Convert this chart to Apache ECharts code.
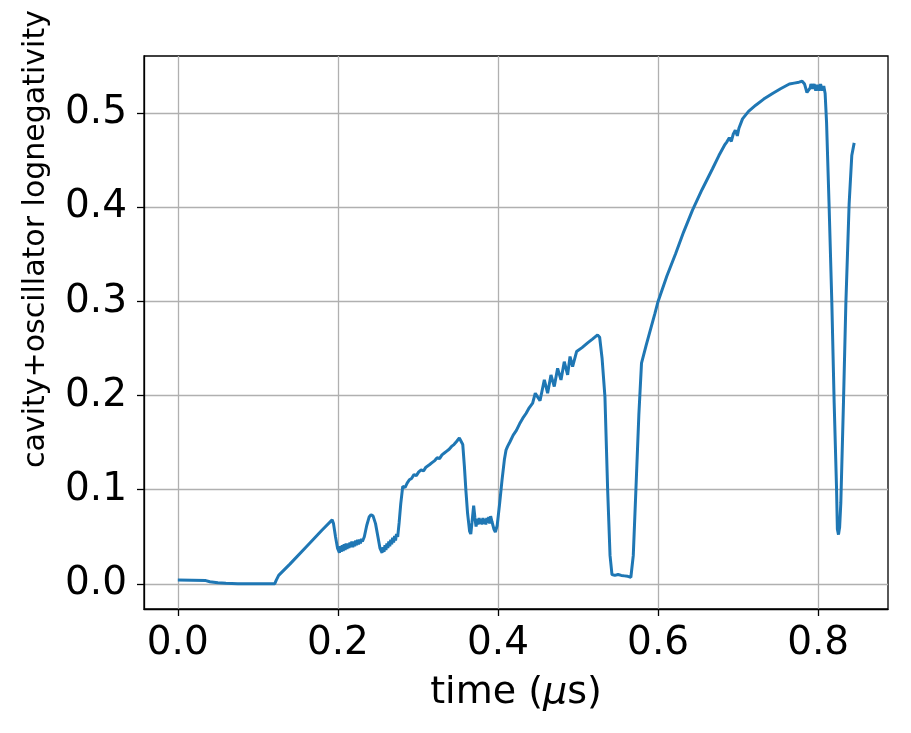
<!DOCTYPE html>
<html>
<head>
<meta charset="utf-8">
<script src="https://cdn.jsdelivr.net/npm/echarts@6/dist/echarts.min.js"></script>
<style>
html,body{margin:0;padding:0;background:#fff;}
#chart{width:911px;height:733px;}
</style>
</head>
<body>
<div id="chart"></div>
<script>
// time in microseconds
var time = [
0.000,0.035,0.040,0.050,0.060,0.075,0.090,0.121,0.123,0.126,
0.140,0.160,0.180,0.1928,0.1945,0.197,0.1995,0.2019,
0.2030,0.2042,0.2054,0.2066,0.2078,0.2090,0.2102,0.2114,0.2126,0.2138,0.2150,0.2162,0.2174,0.2186,0.2198,0.2210,0.2222,0.2234,0.2246,0.2258,0.2270,0.2282,0.2294,0.2306,
0.233,0.236,0.239,0.2414,0.244,0.247,0.250,0.2525,0.2552,
0.2564,0.2576,0.2588,0.2600,0.2612,0.2624,0.2636,0.2648,0.2660,0.2672,0.2684,0.2696,0.2708,0.2720,0.2732,0.2747,
0.2765,0.2785,0.281,0.2825,0.284,0.2865,0.2893,
0.292,0.295,0.298,0.301,0.304,0.307,0.310,0.3143,0.318,0.321,0.324,0.327,0.330,0.333,0.336,0.339,0.342,0.345,0.348,0.3517,0.354,
0.356,0.358,0.360,0.362,0.3645,0.3660,0.3675,0.3696,0.3712,0.3726,
0.3740,0.3752,0.3764,0.3776,0.3788,0.3800,0.3812,0.3824,0.3836,0.3848,0.3860,0.3872,0.3884,0.3896,0.3908,0.3925,0.3950,0.3967,0.3990,
0.402,0.405,0.408,0.410,0.412,
0.415,0.417,0.419,0.421,0.423,0.425,0.427,0.429,0.431,0.433,0.435,0.437,0.439,0.441,0.4433,0.4450,
0.4466,0.4525,0.4579,0.462,0.4662,0.4703,0.4745,0.4787,0.4828,0.487,0.490,0.4932,0.4982,
0.505,0.512,0.518,0.5244,0.527,
0.5300,0.5336,0.537,0.540,0.5424,0.546,0.550,0.554,0.558,0.562,0.566,0.569,0.5723,0.576,0.5793,
0.585,0.591,0.596,0.600,0.611,0.622,0.632,0.643,0.655,0.668,0.676,0.683,0.686,
0.689,0.6915,0.694,0.6965,0.699,0.701,0.7055,0.713,0.722,0.732,0.743,0.753,0.764,0.770,0.776,0.780,
0.783,0.786,0.788,0.790,0.791,0.793,0.795,0.797,0.799,0.801,0.803,0.805,0.807,0.8087,
0.8105,0.8137,0.8171,0.820,0.8229,0.8240,0.8254,0.8268,0.8283,0.8316,0.8346,0.8387,0.842,0.845
];
// cavity+oscillator lognegativity
var lognegativity = [
0.0040,0.0035,0.0022,0.0012,0.0006,0.0002,0.0000,0.0000,0.0040,0.0090,
0.021,0.039,0.057,0.068,0.064,0.050,0.038,0.033,
0.040,0.034,0.041,0.035,0.042,0.036,0.043,0.037,0.043,0.038,0.044,0.039,0.045,0.039,0.045,0.040,0.046,0.041,0.047,0.042,0.047,0.043,0.048,0.045,
0.050,0.062,0.071,0.0735,0.072,0.064,0.050,0.038,0.033,
0.039,0.034,0.041,0.036,0.043,0.038,0.045,0.040,0.047,0.042,0.049,0.044,0.051,0.046,0.053,0.050,
0.065,0.085,0.1035,0.104,0.1025,0.107,0.1106,
0.112,0.116,0.115,0.119,0.121,0.120,0.124,0.1265,0.129,0.131,0.134,0.133,0.137,0.139,0.141,0.143,0.146,0.148,0.151,0.1549,0.156,
0.148,0.125,0.098,0.075,0.056,0.053,0.065,0.083,0.070,0.061,
0.069,0.063,0.070,0.064,0.069,0.063,0.070,0.064,0.069,0.063,0.070,0.065,0.071,0.064,0.072,0.066,0.058,0.055,0.062,
0.085,0.110,0.132,0.142,0.146,
0.151,0.153,0.158,0.160,0.163,0.165,0.170,0.171,0.176,0.177,0.181,0.182,0.187,0.186,0.192,0.190,
0.2026,0.1945,0.2167,0.2026,0.222,0.2096,0.229,0.2167,0.236,0.222,0.2415,0.2309,0.2468,
0.251,0.256,0.260,0.2645,0.262,
0.240,0.199,0.100,0.030,0.0099,0.009,0.010,0.009,0.0085,0.008,0.007,0.030,0.100,0.180,0.2345,
0.253,0.2716,0.287,0.300,0.327,0.351,0.374,0.397,0.419,0.441,0.455,0.466,0.4696,
0.474,0.470,0.478,0.482,0.476,0.484,0.494,0.502,0.5085,0.515,0.521,0.526,0.531,0.532,0.533,0.534,
0.531,0.522,0.520,0.527,0.531,0.526,0.531,0.524,0.530,0.524,0.531,0.524,0.529,0.521,
0.490,0.4006,0.298,0.192,0.1035,0.058,0.0523,0.060,0.086,0.192,0.298,0.404,0.455,0.4685
];
var xLabelText = 'time ({i|\u03bc}s)';
var yLabelText = 'cavity+oscillator lognegativity';

var points = time.map(function (t, i) { return [t, lognegativity[i]]; });

var chart = echarts.init(document.getElementById('chart'), null, {renderer: 'canvas'});
var font = 'DejaVu Sans';
chart.setOption({
  animation: false,
  backgroundColor: '#ffffff',
  grid: {left: 144, top: 56, width: 744, height: 553, show: true, borderColor: '#000', borderWidth: 1.3, backgroundColor: 'transparent'},
  xAxis: {
    type: 'value', min: -0.04225, max: 0.88725, splitNumber: 5,
    axisLine: {show: true, onZero: false, lineStyle: {color: '#000', width: 1.3}},
    axisTick: {show: true, length: 7, inside: false, lineStyle: {color: '#000', width: 1.3}},
    axisLabel: {show: true, showMinLabel: false, showMaxLabel: false, margin: 15, color: '#000', fontFamily: font, fontSize: 39,
      formatter: function (v) { return v.toFixed(1); }},
    splitLine: {show: true, showMinLine: false, showMaxLine: false, lineStyle: {color: '#b0b0b0', width: 1.3}},
    name: xLabelText, nameLocation: 'middle', nameGap: 65,
    nameTextStyle: {color: '#000', fontFamily: font, fontSize: 38, rich: {i: {fontStyle: 'italic', fontFamily: font, fontSize: 38, color: '#000'}}}
  },
  yAxis: {
    type: 'value', min: -0.0267, max: 0.5608, splitNumber: 6,
    axisLine: {show: true, onZero: false, lineStyle: {color: '#000', width: 1.3}},
    axisTick: {show: true, length: 7, inside: false, lineStyle: {color: '#000', width: 1.3}},
    axisLabel: {show: true, showMinLabel: false, showMaxLabel: false, margin: 17, color: '#000', fontFamily: font, fontSize: 39,
      formatter: function (v) { return v.toFixed(1); }},
    splitLine: {show: true, showMinLine: false, showMaxLine: false, lineStyle: {color: '#b0b0b0', width: 1.3}}
  },
  graphic: [{
    type: 'text', x: 36, y: 239, rotation: Math.PI / 2,
    style: {text: yLabelText, fill: '#000', font: '30px "DejaVu Sans"', textAlign: 'center', textVerticalAlign: 'middle'}
  }],
  series: [{
    type: 'line', data: points, showSymbol: false, smooth: false,
    lineStyle: {color: '#1f77b4', width: 3}, itemStyle: {color: '#1f77b4'}
  }]
});
</script>
</body>
</html>
